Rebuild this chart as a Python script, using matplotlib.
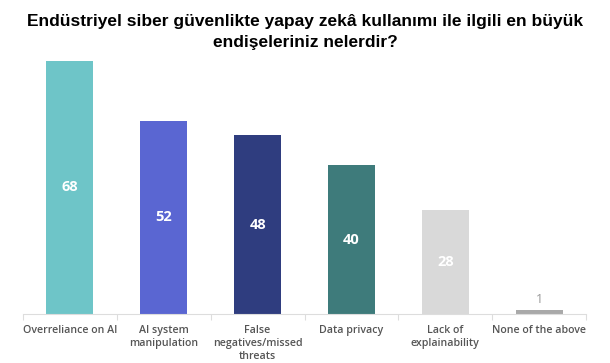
import matplotlib
matplotlib.use("Agg")
import matplotlib.pyplot as plt
import numpy as np

categories = ["Overreliance on AI", "AI system\nmanipulation", "False\nnegatives/missed\nthreats",
              "Data privacy", "Lack of\nexplainability", "None of the above"]
values = [68, 52, 48, 40, 28, 1]
colors = ["#6EC5C8", "#5A66D2", "#2F3D7F", "#3E7B7B", "#D9D9D9", "#A9A9A9"]
title = "Endüstriyel siber güvenlikte yapay zekâ kullanımı ile ilgili en büyük\nendişeleriniz nelerdir?"

W, H = 610, 363
fig = plt.figure(figsize=(W/100, H/100), dpi=100)
ax = fig.add_axes([23/W, 1-314/H, (586-23)/W, (314-61)/H])
x = np.arange(len(values))
ax.bar(x, values, width=0.5, color=colors, zorder=2)
ax.set_xlim(-0.5, len(values)-0.5)
ax.set_ylim(0, 68)
for xi, v in zip(x, values):
    if v >= 10:
        ax.text(xi, v/2, str(v), ha="center", va="center", color="white",
                fontsize=10.5, fontweight="bold", family="Open Sans")
    else:
        ax.text(xi, v + 1.2, str(v), ha="center", va="bottom", color="#9A9A9A",
                fontsize=9, family="Open Sans")
for s in ["top", "right", "left"]:
    ax.spines[s].set_visible(False)
ax.spines["bottom"].set_color("#DDDDDD")
ax.set_yticks([])
ax.set_xticks(np.arange(-0.5, len(values), 1.0), minor=False)
ax.set_xticklabels([])
ax.tick_params(axis="x", length=4, color="#DDDDDD")
for xi, lab in zip(x, categories):
    ax.text(xi, -3.0, lab, ha="center", va="top", fontsize=7.7, color="#555555",
            family="Open Sans", fontweight="semibold", linespacing=1.25,
            transform=ax.transData, clip_on=False)
fig.text(0.5, 1-32/H, title, ha="center", va="center", fontsize=12.5, fontweight="bold",
         family="Liberation Sans", color="#000000", linespacing=1.55)
fig.savefig("out.png", dpi=100)
